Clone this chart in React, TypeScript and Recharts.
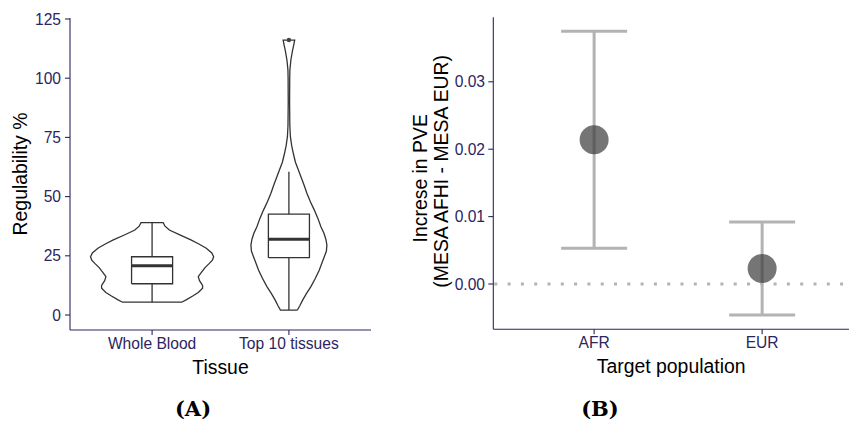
import React from 'react';
import { ScatterChart, Scatter, XAxis, YAxis, ErrorBar, ReferenceLine, Label } from 'recharts';

// ---------- Panel A data ----------
const tissues = ['Whole Blood', 'Top 10 tissues'];
const regTicks = [0, 25, 50, 75, 100, 125];

// violin outline: value levels and relative density (1 = widest)
const wbLevels = [5.4, 6.5, 8, 9.5, 11.3, 12.5, 14.5, 16.2, 18.3, 20, 21.8, 23.2, 24.6, 26.2, 28.2, 30, 31.7, 33.8, 35.9, 37.5, 39];
const wbDensity = [0.48, 0.56, 0.66, 0.75, 0.82, 0.82, 0.77, 0.75, 0.81, 0.86, 0.93, 0.98, 1.0, 0.97, 0.88, 0.76, 0.63, 0.45, 0.28, 0.21, 0.18];

const topLevels = [2.1, 4, 6.3, 9, 12, 15.5, 19, 22, 24.6, 27, 29.6, 32, 34.5, 37.3, 40.8, 44.3, 47.8, 51.4, 55, 58.4, 61.2, 64.5, 68.3, 71.5, 75.3, 80, 90, 100, 103.5, 107.7, 111.9, 114, 116.1];
const topDensity = [0.138, 0.179, 0.223, 0.284, 0.357, 0.43, 0.494, 0.536, 0.575, 0.609, 0.617, 0.6, 0.569, 0.52, 0.471, 0.413, 0.349, 0.292, 0.244, 0.195, 0.154, 0.106, 0.071, 0.045, 0.024, 0.015, 0.011, 0.013, 0.016, 0.032, 0.06, 0.078, 0.094];

const boxMin = [5.4, 2.1];
const boxQ1 = [13.2, 24.2];
const boxMedian = [20.8, 32.0];
const boxQ3 = [24.6, 42.6];
const boxMax = [39, 60.5];
const outlierValues = [116.1];
const outlierGroup = [2];

// ---------- Panel B data ----------
const populations = ['AFR', 'EUR'];
const pveIncrease = [0.0214, 0.0023];
const pveCI = [0.0161, 0.0069];
const pveTicks = [0, 0.01, 0.02, 0.03];

// ---------- styles ----------
const AXIS_COLOR = '#2c2560';
const FONT = '"Liberation Sans", Arial, Helvetica, sans-serif';
const TICK_STYLE = { fill: AXIS_COLOR, fontSize: 15.6, fontFamily: FONT };
const TITLE_SIZE = 19.4;
const VIOLIN_HALF = 0.45;
const BOX_HALF = 0.15;
const OUTLINE = '#333333';

const EmptyShape = () => <g />;

function violinPoints(center: number, levels: number[], dens: number[]) {
  const right = levels.map((v, i) => ({ x: center + dens[i] * VIOLIN_HALF, y: v }));
  const left = levels.map((v, i) => ({ x: center - dens[i] * VIOLIN_HALF, y: v })).reverse();
  return [...right, ...left, right[0]];
}

const violins = [
  violinPoints(1, wbLevels, wbDensity),
  violinPoints(2, topLevels, topDensity),
];

const boxes = [0, 1].map((i) => {
  const c = i + 1;
  return {
    rect: [
      { x: c - BOX_HALF, y: boxQ1[i] },
      { x: c + BOX_HALF, y: boxQ1[i] },
      { x: c + BOX_HALF, y: boxQ3[i] },
      { x: c - BOX_HALF, y: boxQ3[i] },
      { x: c - BOX_HALF, y: boxQ1[i] },
    ],
    median: [
      { x: c - BOX_HALF, y: boxMedian[i] },
      { x: c + BOX_HALF, y: boxMedian[i] },
    ],
    upper: [
      { x: c, y: boxQ3[i] },
      { x: c, y: boxMax[i] },
    ],
    lower: [
      { x: c, y: boxMin[i] },
      { x: c, y: boxQ1[i] },
    ],
  };
});

const outliers = outlierValues.map((v, i) => ({ x: outlierGroup[i], y: v }));

const pveData = populations.map((p, i) => ({ x: i + 1, y: pveIncrease[i], err: pveCI[i], name: p }));

const LeftYTitle = (props: any) => {
  const vb = props.viewBox || { x: 0, y: 18, width: 70, height: 312 };
  const cx = vb.x + 26.5;
  const cy = vb.y + vb.height / 2;
  return (
    <text x={cx} y={cy} transform={`rotate(-90, ${cx}, ${cy})`} textAnchor="middle" fill="#000" fontSize={TITLE_SIZE} fontFamily={FONT}>
      Regulability %
    </text>
  );
};

const RightYTitle = (props: any) => {
  const vb = props.viewBox || { x: 0, y: 17.3, width: 113.3, height: 312 };
  const cy = vb.y + vb.height / 2;
  const x1 = vb.x + 47.5;
  const x2 = vb.x + 68;
  const c1 = cy + 5;
  const c2 = cy - 2;
  return (
    <g>
      <text x={x1} y={c1} transform={`rotate(-90, ${x1}, ${c1})`} textAnchor="middle" fill="#000" fontSize={TITLE_SIZE} fontFamily={FONT}>
        Increse in PVE
      </text>
      <text x={x2} y={c2} transform={`rotate(-90, ${x2}, ${c2})`} textAnchor="middle" fill="#000" fontSize={TITLE_SIZE} fontFamily={FONT}>
        (MESA AFHI - MESA EUR)
      </text>
    </g>
  );
};

const CircleShape = (p: any) => <circle cx={p.cx} cy={p.cy} r={14.5} fill="#3a3a3a" fillOpacity={0.7} />;
const OutlierShape = (p: any) => <circle cx={p.cx} cy={p.cy} r={2.2} fill="#444444" />;

const lineStyle = { stroke: OUTLINE, strokeWidth: 1.3, fill: 'none' };

export default function App() {
  return (
    <div style={{ position: 'absolute', left: 0, top: 0, width: 849, height: 431, background: '#fff', overflow: 'hidden' }}>
      <div style={{ position: 'absolute', left: 0, top: 0 }}>
        <ScatterChart width={380} height={380} margin={{ top: 18, right: 9, left: 0, bottom: 0 }}>
          <XAxis
            type="number"
            dataKey="x"
            domain={[0.4, 2.6]}
            allowDataOverflow
            ticks={[1, 2]}
            tickFormatter={(v: number) => tissues[v - 1] ?? ''}
            height={50}
            tickSize={5}
            tickMargin={3}
            tick={TICK_STYLE}
            axisLine={{ stroke: AXIS_COLOR, strokeWidth: 1.1 }}
            tickLine={{ stroke: AXIS_COLOR, strokeWidth: 1.1 }}
          >
            <Label value="Tissue" position="insideBottom" offset={6} fill="#000" fontSize={TITLE_SIZE} fontFamily={FONT} />
          </XAxis>
          <YAxis
            type="number"
            dataKey="y"
            domain={[-6.33, 125.42]}
            allowDataOverflow
            ticks={regTicks}
            width={70}
            tickSize={5}
            tickMargin={4}
            tick={TICK_STYLE}
            axisLine={{ stroke: AXIS_COLOR, strokeWidth: 1.1 }}
            tickLine={{ stroke: AXIS_COLOR, strokeWidth: 1.1 }}
          >
            <Label content={LeftYTitle} />
          </YAxis>
          {violins.map((pts, i) => (
            <Scatter key={`v${i}`} data={pts} line={lineStyle} lineType="joint" shape={EmptyShape} isAnimationActive={false} />
          ))}
          {boxes.map((b, i) => (
            <Scatter key={`bu${i}`} data={b.upper} line={lineStyle} shape={EmptyShape} isAnimationActive={false} />
          ))}
          {boxes.map((b, i) => (
            <Scatter key={`bl${i}`} data={b.lower} line={lineStyle} shape={EmptyShape} isAnimationActive={false} />
          ))}
          {boxes.map((b, i) => (
            <Scatter key={`br${i}`} data={b.rect} line={lineStyle} shape={EmptyShape} isAnimationActive={false} />
          ))}
          {boxes.map((b, i) => (
            <Scatter key={`bm${i}`} data={b.median} line={{ stroke: OUTLINE, strokeWidth: 2.8 }} shape={EmptyShape} isAnimationActive={false} />
          ))}
          <Scatter data={outliers} shape={OutlierShape} isAnimationActive={false} />
        </ScatterChart>
      </div>

      <div style={{ position: 'absolute', left: 380, top: 0 }}>
        <ScatterChart width={469} height={380} margin={{ top: 17.3, right: 0, left: 0, bottom: 0 }}>
          <XAxis
            type="number"
            dataKey="x"
            domain={[0.4, 2.517]}
            allowDataOverflow
            ticks={[1, 2]}
            tickFormatter={(v: number) => populations[v - 1] ?? ''}
            height={50.7}
            tickSize={5}
            tickMargin={3}
            tick={TICK_STYLE}
            axisLine={{ stroke: AXIS_COLOR, strokeWidth: 1.1 }}
            tickLine={{ stroke: AXIS_COLOR, strokeWidth: 1.1 }}
          >
            <Label value="Target population" position="insideBottom" offset={6.7} fill="#000" fontSize={TITLE_SIZE} fontFamily={FONT} />
          </XAxis>
          <YAxis
            type="number"
            dataKey="y"
            domain={[-0.00672, 0.03957]}
            allowDataOverflow
            ticks={pveTicks}
            tickFormatter={(v: number) => v.toFixed(2)}
            width={113.3}
            tickSize={5}
            tickMargin={3.3}
            tick={TICK_STYLE}
            axisLine={{ stroke: AXIS_COLOR, strokeWidth: 1.1 }}
            tickLine={{ stroke: AXIS_COLOR, strokeWidth: 1.1 }}
          >
            <Label content={RightYTitle} />
          </YAxis>
          <ReferenceLine y={0} stroke="#b3b3b3" strokeWidth={3} strokeDasharray="3 10.3" strokeDashoffset={-1} />
          <Scatter data={pveData} shape={CircleShape} isAnimationActive={false}>
            <ErrorBar dataKey="err" direction="y" width={33} stroke="#b3b3b3" strokeWidth={3} />
          </Scatter>
        </ScatterChart>
      </div>

      <div style={{ position: 'absolute', left: 143, width: 100, top: 397, textAlign: 'center', fontFamily: '"DejaVu Serif", serif', fontWeight: 'bold', fontSize: 21, lineHeight: '24px' }}>
        (A)
      </div>
      <div style={{ position: 'absolute', left: 550, width: 100, top: 397, textAlign: 'center', fontFamily: '"DejaVu Serif", serif', fontWeight: 'bold', fontSize: 21, lineHeight: '24px' }}>
        (B)
      </div>
    </div>
  );
}
